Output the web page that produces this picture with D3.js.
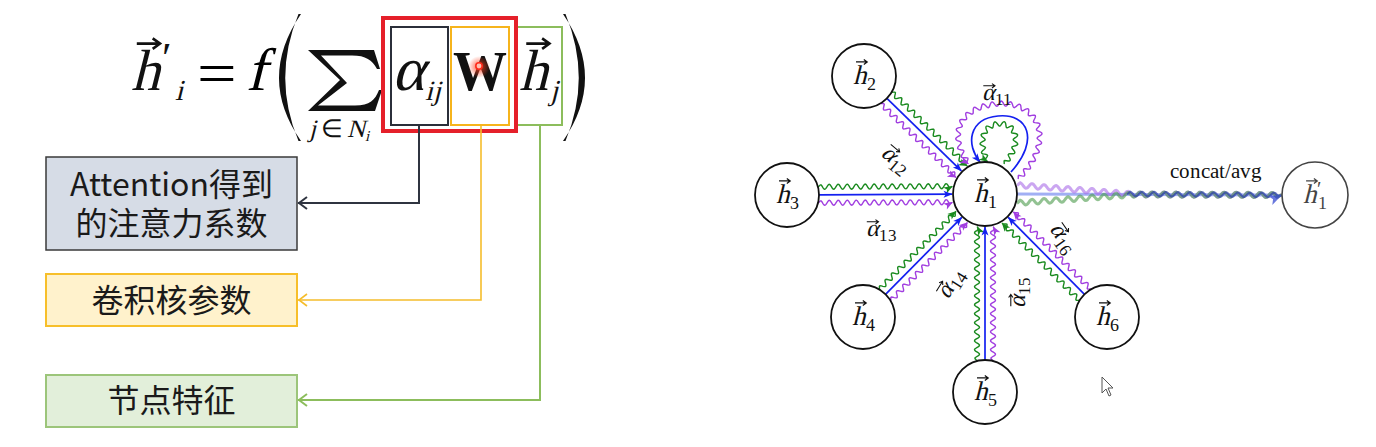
<!DOCTYPE html>
<html><head><meta charset="utf-8">
<script src="https://cdn.jsdelivr.net/npm/d3@7"></script>
<style>
@font-face { font-family: "MathSerif"; src: local("Liberation Serif"), local("LiberationSerif"), local("DejaVu Serif"); font-style: normal; font-weight: normal; }
@font-face { font-family: "MathSerif"; src: local("Liberation Serif Bold"), local("LiberationSerif-Bold"); font-style: normal; font-weight: bold; }
html,body{margin:0;padding:0;background:#fff;overflow:hidden}
</style>
</head><body>
<svg id="c" width="1376" height="447"></svg>
<script>
// ---------------- data (text content) ----------------
const boxLines = [["Attention得到", "的注意力系数"], ["卷积核参数"], ["节点特征"]];
const centerNode = "1";
const neighborNodes = ["2", "3", "4", "5", "6"];
const selfLabel = "11";
const attentionLabels = ["12", "13", "14", "15", "16"];
const outputLabel = "concat/avg";
const channels = ["green", "blue", "purple"];

// ---------------- layout & style ----------------
const MATH = "MathSerif,'Liberation Serif',serif";
const CJK = "'Noto Sans CJK SC','Noto Sans CJK JP',sans-serif";
const col = {green: "#198a1e", blue: "#1420f0", purple: "#a13ee0"};
const R = 32;
const pos = {"1": [985, 194], "2": [864, 76], "3": [787, 195], "4": [863, 317], "5": [985, 392], "6": [1107, 317]};
const outPos = [1315, 195];
const labelPos = {"11": [997, 93, 0], "12": [897, 159, 40], "13": [881, 229, 0], "14": [950, 283, -58], "15": [1018, 292, -90], "16": [1064, 238, 55]};
const boxGeom = [
  {y0: 157, y1: 250, fill: "#d6dce6", stroke: "#3a3a3a", sw: 1.5, baselines: [196, 235]},
  {y0: 274, y1: 326, fill: "#fff2cc", stroke: "#f7bf2a", sw: 2, baselines: [312]},
  {y0: 375, y1: 427, fill: "#e2efda", stroke: "#9cc57a", sw: 2, baselines: [412]}
];
const connectors = [
  {x: 419, y: 203, color: "#2f3440", sw: 2},
  {x: 481, y: 300, color: "#f5bd2c", sw: 1.6},
  {x: 540, y: 400, color: "#8cbd5c", sw: 2}
];

const svg = d3.select("#c");
const defs = svg.append("defs");
const tmp = svg.append("path").attr("fill", "none").attr("stroke", "none");

function marker(id, color, w, h) {
  defs.append("marker").attr("id", id).attr("markerUnits", "userSpaceOnUse")
    .attr("markerWidth", w).attr("markerHeight", h).attr("refX", w - 0.5).attr("refY", h / 2)
    .attr("orient", "auto").attr("overflow", "visible")
    .append("path").attr("d", `M0,0 L${w},${h / 2} L0,${h} L${w * 0.25},${h / 2} Z`).attr("fill", color);
}
Object.entries(col).forEach(([k, c]) => marker("m-" + k, c, 9, 7));
marker("m-out", "#2a3fd0", 13, 10);

function wavyPath(d, amp, wl, offsetFn, phase = 0) {
  const p = tmp.attr("d", d).node();
  const L = p.getTotalLength();
  const pts = [];
  for (let s = 0; s <= L; s += 0.8) {
    const a = p.getPointAtLength(Math.max(0, s - 0.5)), b = p.getPointAtLength(Math.min(L, s + 0.5));
    const c = p.getPointAtLength(s);
    let dx = b.x - a.x, dy = b.y - a.y;
    const m = Math.hypot(dx, dy) || 1; dx /= m; dy /= m;
    const nx = dy, ny = -dx;
    const taper = Math.min(1, s / 3, (L - s) / 5);
    const off = (offsetFn ? offsetFn(s / L) : 0) + amp * taper * Math.sin(2 * Math.PI * s / wl + phase);
    pts.push([c.x + nx * off, c.y + ny * off]);
  }
  return d3.line()(pts);
}

function vecText(parent, x, y, main, sub, fs, o = {}) {
  const g = parent.append("g").attr("transform", `translate(${x},${y}) rotate(${o.rot || 0})`);
  const t = g.append("text").attr("font-family", MATH).attr("font-size", fs).attr("fill", o.color || "#111");
  t.append("tspan").attr("font-style", "italic").text(main);
  let dyAcc = 0;
  if (o.prime) { t.append("tspan").attr("font-size", fs * 0.75).attr("dy", -fs * 0.3).attr("dx", fs * 0.03).text("′"); dyAcc = -fs * 0.3; }
  if (sub) {
    t.append("tspan").attr("font-size", fs * (o.subScale || 0.65)).attr("font-style", o.subItalic ? "italic" : "normal")
      .attr("dx", o.subDx || 0).attr("dy", -dyAcc + fs * (o.subDy || 0.2)).text(sub);
  }
  const w1 = t.node().getSubStringLength(0, 1);
  const bb = t.node().getBBox();
  let x0 = 0, by = 0;
  if (o.center) { x0 = -bb.width / 2; by = fs * 0.3; }
  t.attr("x", x0).attr("y", by);
  const ay = by - fs * (o.arrowH || 0.8);
  const ax0 = x0 + w1 * (o.a0 || 0.25), ax1 = x0 + w1 * (o.a1 || 1.05);
  const hs = fs * 0.09;
  g.append("path").attr("d", `M${ax0},${ay} L${ax1},${ay} M${ax1 - hs * 1.4},${ay - hs} L${ax1},${ay} L${ax1 - hs * 1.4},${ay + hs}`)
    .attr("stroke", o.color || "#111").attr("stroke-width", Math.max(1, fs * 0.045)).attr("fill", "none");
  return g;
}

// ---------------- left: formula ----------------
const F = svg.append("g");
vecText(F, 131, 90, "h", "i", 58, {prime: true, subItalic: true, subScale: 0.5, subDy: 0.17, subDx: 3, a0: 0.2, a1: 1.0});
F.append("text").attr("x", 197).attr("y", 93).attr("font-family", MATH).attr("font-size", 58)
  .attr("textLength", 40).attr("lengthAdjust", "spacingAndGlyphs").text("=");
F.append("text").attr("x", 246).attr("y", 90).attr("font-family", MATH).attr("font-style", "italic").attr("font-size", 60).text("f");
F.append("path").attr("d", "M301,14 Q257,78 301,141 L298.5,141 Q272,78 298.5,14 Z").attr("fill", "#111");
F.append("path").attr("d", "M563,14 Q607,78 563,141 L565.5,141 Q592,78 565.5,14 Z").attr("fill", "#111");
F.append("path").attr("d", "M308,50 L374,50 L380,69 L377,69 C372,60 366,55.5 352,55.5 L321,55.5 L347,83 L318,105.5 L355,105.5 C370,105.5 375,100 379,90 L382,90 L375,111 L308,111 L340,80 Z").attr("fill", "#111");
const sub = F.append("text").attr("x", 309).attr("y", 137).attr("font-family", MATH).attr("font-size", 25).attr("fill", "#111");
sub.append("tspan").attr("font-style", "italic").text("j");
sub.append("tspan").attr("dx", 5).text("∈");
sub.append("tspan").attr("dx", 4).attr("font-style", "italic").text("N");
sub.append("tspan").attr("font-style", "italic").attr("font-size", 15).attr("dy", 4).text("i");
const al = F.append("text").attr("x", 392).attr("y", 90).attr("font-family", MATH).attr("font-size", 62).attr("fill", "#111");
al.append("tspan").attr("font-style", "italic").text("α");
al.append("tspan").attr("font-style", "italic").attr("font-size", 28).attr("dy", 10).attr("dx", 1).text("ij");
F.append("text").attr("x", 453).attr("y", 90).attr("font-family", MATH).attr("font-weight", "bold").attr("font-size", 56)
  .attr("textLength", 54).attr("lengthAdjust", "spacingAndGlyphs").attr("fill", "#111").text("W");
vecText(F, 519, 90, "h", "j", 58, {subItalic: true, subScale: 0.5, subDy: 0.18, subDx: 2, a0: 0.25, a1: 1.05});

F.append("rect").attr("x", 391).attr("y", 27).attr("width", 57).attr("height", 98).attr("fill", "none").attr("stroke", "#2b2f3a").attr("stroke-width", 2);
F.append("rect").attr("x", 451).attr("y", 27).attr("width", 58).attr("height", 98).attr("fill", "none").attr("stroke", "#f6b41c").attr("stroke-width", 2);
F.append("rect").attr("x", 517).attr("y", 27).attr("width", 45).attr("height", 98).attr("fill", "none").attr("stroke", "#8cbd5c").attr("stroke-width", 2);
F.append("rect").attr("x", 383).attr("y", 18).attr("width", 133).attr("height", 113).attr("fill", "none").attr("stroke", "#e5202a").attr("stroke-width", 4);

const rg = defs.append("radialGradient").attr("id", "glow");
rg.append("stop").attr("offset", "0%").attr("stop-color", "#ff4020").attr("stop-opacity", 0.85);
rg.append("stop").attr("offset", "100%").attr("stop-color", "#ff4020").attr("stop-opacity", 0);
F.append("circle").attr("cx", 479).attr("cy", 67).attr("r", 11).attr("fill", "url(#glow)");
F.append("circle").attr("cx", 479).attr("cy", 66).attr("r", 3.2).attr("fill", "#ffc0b0").attr("stroke", "#ff2a1a").attr("stroke-width", 1.6);

// boxes
const B = svg.append("g");
boxGeom.forEach((b, i) => {
  B.append("rect").attr("x", 46).attr("y", b.y0).attr("width", 251).attr("height", b.y1 - b.y0)
    .attr("fill", b.fill).attr("stroke", b.stroke).attr("stroke-width", b.sw);
  const t = B.append("text").attr("text-anchor", "middle").attr("font-family", CJK).attr("font-size", 32).attr("fill", "#1a1a1a");
  boxLines[i].forEach((ln, j) => {
    t.append("tspan").attr("x", 171.5).attr("y", b.baselines[j]).text(ln);
  });
});
connectors.forEach(c => {
  B.append("path").attr("d", `M${c.x},126 L${c.x},${c.y} L298,${c.y}`).attr("fill", "none").attr("stroke", c.color).attr("stroke-width", c.sw);
  B.append("path").attr("d", `M307,${c.y - 6} L299,${c.y} L307,${c.y + 6}`).attr("fill", "none").attr("stroke", c.color).attr("stroke-width", c.sw);
});

// ---------------- right: graph ----------------
const G = svg.append("g");
const T = pos[centerNode];
const off = {green: 8, blue: 0, purple: -8};
neighborNodes.forEach(n => {
  const S = pos[n];
  let ux = T[0] - S[0], uy = T[1] - S[1];
  const L = Math.hypot(ux, uy); ux /= L; uy /= L;
  const nx = uy, ny = -ux;
  channels.forEach(ch => {
    const d = off[ch];
    const k = Math.sqrt(R * R - d * d);
    const x0 = S[0] + ux * k + nx * d, y0 = S[1] + uy * k + ny * d;
    const x1 = T[0] - ux * (k + 1) + nx * d, y1 = T[1] - uy * (k + 1) + ny * d;
    const line = `M${x0},${y0} L${x1},${y1}`;
    G.append("path").attr("d", ch === "blue" ? line : wavyPath(line, 2.5, 9))
      .attr("fill", "none").attr("stroke", col[ch]).attr("stroke-width", ch === "blue" ? 1.7 : 1.4)
      .attr("marker-end", `url(#m-${ch})`);
  });
});
G.append("path").attr("d", wavyPath("M1018,179 C1058,140 1038,99 995,104 C954,109 950,140 969,164", 2.5, 9))
  .attr("fill", "none").attr("stroke", col.purple).attr("stroke-width", 1.4).attr("marker-end", "url(#m-purple)");
G.append("path").attr("d", "M1011,172 C1040,140 1028,113 998,116 C968,119 966,145 980,162")
  .attr("fill", "none").attr("stroke", col.blue).attr("stroke-width", 1.7).attr("marker-end", "url(#m-blue)");
G.append("path").attr("d", wavyPath("M1004,164 C1026,140 1013,121 997,124 C979,127 980,148 988,162", 2.5, 8.5))
  .attr("fill", "none").attr("stroke", col.green).attr("stroke-width", 1.4).attr("marker-end", "url(#m-green)");

const outLine = `M${T[0] + R},${T[1]} L${outPos[0] - R - 1},${outPos[1]}`;
G.append("path").attr("d", outLine).attr("stroke", "#3050e8").attr("stroke-width", 3).attr("opacity", 0.45);
G.append("path").attr("d", wavyPath(outLine, 2.5, 12, t => 9 * Math.max(0, 1 - t / 0.45)))
  .attr("fill", "none").attr("stroke", "#a96be8").attr("stroke-width", 3).attr("opacity", 0.6);
G.append("path").attr("d", wavyPath(outLine, 2.5, 12, t => -9 * Math.max(0, 1 - t / 0.45)))
  .attr("fill", "none").attr("stroke", "#4a9a4a").attr("stroke-width", 3).attr("opacity", 0.6);
G.append("path").attr("d", wavyPath(`M${T[0] + R + 110},${T[1]} L${outPos[0] - R - 1},${outPos[1]}`, 2.2, 12))
  .attr("fill", "none").attr("stroke", "#2a3fa8").attr("stroke-width", 2.2).attr("opacity", 0.7).attr("marker-end", "url(#m-out)");
G.append("text").attr("x", 1216).attr("y", 178).attr("text-anchor", "middle").attr("font-family", MATH)
  .attr("font-size", 21).attr("fill", "#111").text(outputLabel);

[centerNode, ...neighborNodes].forEach(n => {
  G.append("circle").attr("cx", pos[n][0]).attr("cy", pos[n][1]).attr("r", R).attr("fill", "#fff").attr("stroke", "#111").attr("stroke-width", 1.8);
  vecText(G, pos[n][0], pos[n][1], "h", n, 27, {center: true, subScale: 0.68, subDy: 0.2, a0: 0.25, a1: 1.05, arrowH: 0.82});
});
G.append("circle").attr("cx", outPos[0]).attr("cy", outPos[1]).attr("r", R + 1).attr("fill", "#fff").attr("stroke", "#444").attr("stroke-width", 1.6);
vecText(G, outPos[0], outPos[1], "h", centerNode, 27, {center: true, prime: true, subScale: 0.68, subDy: 0.2, subDx: -3, color: "#444", a0: 0.25, a1: 1.05, arrowH: 0.82});

[selfLabel, ...attentionLabels].forEach(l => {
  const p = labelPos[l];
  vecText(G, p[0], p[1], "α", l, 24, {center: true, rot: p[2], subScale: 0.72, subDy: 0.2, arrowH: 0.6, a0: 0.1, a1: 1.0});
});

svg.append("path").attr("d", "M1102,377 L1102,393 L1106,389 L1109,396 L1111,395 L1108,388 L1113,388 Z")
  .attr("fill", "#fff").attr("stroke", "#555").attr("stroke-width", 1);
</script>
</body></html>
